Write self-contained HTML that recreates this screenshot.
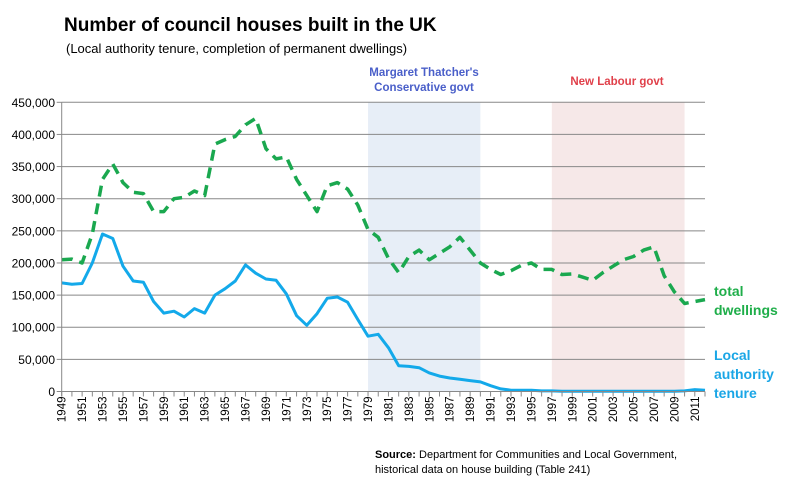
<!DOCTYPE html>
<html><head><meta charset="utf-8"><style>
body{margin:0;background:#fff;font-family:"Liberation Sans",Calibri,sans-serif}
svg text{font-family:"Liberation Sans",sans-serif}
</style></head><body>
<svg id="chart" width="795" height="485">
<text x="64" y="31" font-size="19" font-weight="bold" fill="#000">Number of council houses built in the UK</text>
<text x="66" y="53" font-size="13" fill="#000">(Local authority tenure, completion of permanent dwellings)</text>
<g id="bands"></g>
<g id="grid"></g>
<g id="series"></g>
<g id="axes"></g>
<text x="424" y="76" font-size="11.5" font-weight="bold" fill="#4a5fc9" text-anchor="middle">Margaret Thatcher's</text>
<text x="424" y="91" font-size="11.5" font-weight="bold" fill="#4a5fc9" text-anchor="middle">Conservative govt</text>
<text x="617" y="85" font-size="11.5" font-weight="bold" fill="#e0404a" text-anchor="middle">New Labour govt</text>
<text x="714" y="296" font-size="14" font-weight="bold" fill="#1fae4a">total</text>
<text x="714" y="315" font-size="14" font-weight="bold" fill="#1fae4a">dwellings</text>
<text x="714" y="360" font-size="14" font-weight="bold" fill="#1aa6e6">Local</text>
<text x="714" y="379" font-size="14" font-weight="bold" fill="#1aa6e6">authority</text>
<text x="714" y="398" font-size="14" font-weight="bold" fill="#1aa6e6">tenure</text>
<text x="375" y="458" font-size="11" fill="#000"><tspan font-weight="bold">Source:</tspan> Department for Communities and Local Government,</text>
<text x="375" y="473" font-size="11" fill="#000">historical data on house building (Table 241)</text>
</svg>
<script>
const years = [];
for (let y = 1949; y <= 2012; y++) years.push(y);
const localAuthority = [169,167,168,200,245,238,195,172,170,140,122,125,116,129,122,150,160,172,197,184,175,173,152,118,103,121,145,147,139,112,86,89,68,40,39,37,29,24,21,19,17,15,9,4,2,2,2,1,1,0.5,0.3,0.3,0.3,0.3,0.3,0.3,0.3,0.3,0.3,0.3,0.3,1,3,2];
const totalDwellings = [205,206,200,245,330,354,325,310,308,280,280,300,302,312,305,385,392,397,415,425,378,362,365,330,305,280,320,325,315,290,252,240,207,185,210,220,205,215,225,240,220,200,190,182,188,196,200,190,190,182,183,178,173,185,195,205,210,220,225,180,155,137,140,143];
const yTicks = [0,50000,100000,150000,200000,250000,300000,350000,400000,450000];
const yTickLabels = ["0","50,000","100,000","150,000","200,000","250,000","300,000","350,000","400,000","450,000"];
const periods = [{name:"thatcher-period-band",from:1979,to:1990,color:"#e7eef7"},{name:"labour-period-band",from:1997,to:2010,color:"#f6e8e8"}];

const NS="http://www.w3.org/2000/svg";
const x0=61.7,x1=705,yb=391.5,yt=102.3;
const X=y=>x0+(y-1949)*(x1-x0)/(2012-1949);
const Y=v=>yb-(v/450000)*(yb-yt);
function mk(tag,attrs,parent){const e=document.createElementNS(NS,tag);for(const k in attrs)e.setAttribute(k,attrs[k]);parent.appendChild(e);return e;}
const bands=document.getElementById('bands'),grid=document.getElementById('grid'),series=document.getElementById('series'),axes=document.getElementById('axes');
periods.forEach(p=>{const r=mk('rect',{x:X(p.from),y:yt,width:X(p.to)-X(p.from),height:yb-yt,fill:p.color},bands);

});
yTicks.forEach((v,i)=>{
 if(v>0){const l=mk('line',{x1:x0,x2:x1,y1:Y(v),y2:Y(v),stroke:'#888','stroke-width':1},grid);
 
 }
 const t=mk('text',{x:55,y:Y(v)+4.5,'font-size':12,'text-anchor':'end',fill:'#000'},axes);t.textContent=yTickLabels[i];
 
 
 const tk=mk('line',{x1:x0-5,x2:x0,y1:Y(v),y2:Y(v),stroke:'#888'},axes);
 
 
});
const ya=mk('line',{x1:x0,x2:x0,y1:yt,y2:yb+5,stroke:'#888'},axes);


const xa=mk('line',{x1:x0,x2:x1,y1:yb,y2:yb,stroke:'#888'},axes);


years.forEach((yr,i)=>{
 const tk=mk('line',{x1:X(yr),x2:X(yr),y1:yb,y2:yb+5,stroke:'#888'},axes);
 
 
 if(i%2===0){const t=mk('text',{x:0,y:0,'font-size':11.5,'text-anchor':'end',fill:'#000',transform:`translate(${X(yr)+4},${yb+5}) rotate(-90)`},axes);t.textContent=yr;
 
 }
});
const pts=arr=>arr.map((v,i)=>X(years[i]).toFixed(1)+','+Y(v*1000).toFixed(1)).join(' ');
const tot=mk('polyline',{points:pts(totalDwellings),fill:'none',stroke:'#1aa84f','stroke-width':3.5,'stroke-dasharray':'11,7','stroke-linejoin':'round'},series);


const la=mk('polyline',{points:pts(localAuthority),fill:'none',stroke:'#13a9ea','stroke-width':3,'stroke-linejoin':'round'},series);


</script>
</body></html>
